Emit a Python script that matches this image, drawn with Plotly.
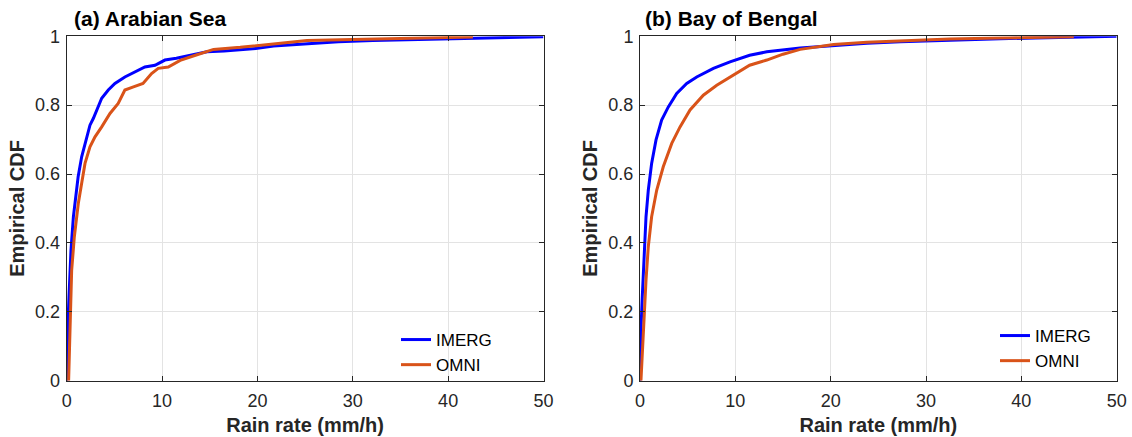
import plotly.graph_objects as go

# ---- data ----
as_imerg_x = [0, 0.02, 0.1, 0.24, 0.45, 0.7, 0.94, 1.2, 1.57, 2.0, 2.44, 2.8, 3.1, 3.67, 4.36, 5.06, 6.1, 7.16, 8.2, 9.26, 10.3, 11.5, 13.0, 14.7, 16.5, 18.2, 20.0, 21.7, 25.2, 28.5, 32.1, 35.5, 39.1, 42.6, 46.1, 50]
as_imerg_y = [0, 0.06, 0.147, 0.244, 0.38, 0.476, 0.534, 0.592, 0.65, 0.699, 0.742, 0.762, 0.781, 0.82, 0.844, 0.863, 0.882, 0.897, 0.911, 0.916, 0.931, 0.936, 0.945, 0.955, 0.957, 0.96, 0.965, 0.972, 0.979, 0.984, 0.988, 0.99, 0.993, 0.995, 0.998, 0.999]
as_omni_x = [0.2, 0.25, 0.35, 0.52, 0.8, 1.22, 1.57, 1.92, 2.44, 2.97, 3.67, 4.54, 5.4, 6.1, 7.0, 8.0, 8.9, 9.6, 10.65, 11.35, 11.9, 13.5, 15.4, 18.2, 21.7, 25.2, 30, 35, 40, 42.6]
as_omni_y = [0, 0.05, 0.196, 0.32, 0.418, 0.515, 0.573, 0.631, 0.679, 0.708, 0.737, 0.776, 0.805, 0.844, 0.853, 0.863, 0.892, 0.907, 0.911, 0.921, 0.93, 0.945, 0.962, 0.968, 0.978, 0.988, 0.991, 0.993, 0.996, 0.998]

bb_imerg_x = [0, 0.02, 0.1, 0.24, 0.42, 0.63, 0.87, 1.22, 1.68, 2.27, 2.97, 3.85, 4.9, 5.95, 7.7, 9.44, 11.5, 13.3, 16.8, 20.3, 23.8, 27.3, 32.5, 37.8, 41.5, 45.5, 50]
bb_imerg_y = [0, 0.06, 0.147, 0.244, 0.36, 0.476, 0.553, 0.631, 0.699, 0.757, 0.795, 0.834, 0.863, 0.882, 0.907, 0.926, 0.945, 0.955, 0.966, 0.974, 0.98, 0.984, 0.989, 0.993, 0.995, 0.998, 1.0]
bb_omni_x = [0.1, 0.28, 0.42, 0.63, 0.87, 1.22, 1.75, 2.44, 3.33, 4.2, 5.25, 6.64, 8.05, 9.44, 11.5, 13.3, 15.0, 16.8, 20.3, 23.8, 27.3, 32.5, 37.8, 41.5, 45.5]
bb_omni_y = [0, 0.1, 0.196, 0.292, 0.389, 0.476, 0.553, 0.621, 0.689, 0.737, 0.786, 0.829, 0.858, 0.882, 0.916, 0.931, 0.948, 0.962, 0.976, 0.983, 0.987, 0.992, 0.995, 0.997, 0.999]

panel_titles = ["(a) Arabian Sea", "(b) Bay of Bengal"]
series_names = ["IMERG", "OMNI"]
x_ticks = [0, 10, 20, 30, 40, 50]
y_ticks = [0, 0.2, 0.4, 0.6, 0.8, 1]
y_tick_labels = ["0", "0.2", "0.4", "0.6", "0.8", "1"]

BLUE = "#0000FF"
ORANGE = "#D95319"
FONT = "Liberation Sans, Arial, sans-serif"
W, H = 1132, 437

fig = go.Figure()
fig.add_trace(go.Scatter(x=as_imerg_x, y=as_imerg_y, mode="lines", name=series_names[0],
                         line=dict(color=BLUE, width=3), xaxis="x", yaxis="y", legend="legend"))
fig.add_trace(go.Scatter(x=as_omni_x, y=as_omni_y, mode="lines", name=series_names[1],
                         line=dict(color=ORANGE, width=3), xaxis="x", yaxis="y", legend="legend"))
fig.add_trace(go.Scatter(x=bb_imerg_x, y=bb_imerg_y, mode="lines", name=series_names[0],
                         line=dict(color=BLUE, width=3), xaxis="x2", yaxis="y2", legend="legend2"))
fig.add_trace(go.Scatter(x=bb_omni_x, y=bb_omni_y, mode="lines", name=series_names[1],
                         line=dict(color=ORANGE, width=3), xaxis="x2", yaxis="y2", legend="legend2"))

left = [66.7 / W, 543.5 / W]
right = [640 / W, 1116.7 / W]
ydom = [(H - 380.7) / H, (H - 36.3) / H]

axcommon = dict(showline=True, linecolor="#262626", linewidth=1, mirror="allticks",
                ticks="inside", ticklen=5, tickcolor="#262626",
                showgrid=True, gridcolor="#E3E3E3", gridwidth=1, zeroline=False,
                tickfont=dict(family=FONT, size=18, color="#262626"), automargin=False)

xcommon = dict(axcommon, range=[0, 50], tickvals=x_ticks, ticklabelstandoff=4,
               title=dict(text="<b>Rain rate (mm/h)</b>", font=dict(family=FONT, size=20, color="#262626"), standoff=7))
ycommon = dict(axcommon, range=[0, 1], tickvals=y_ticks, ticktext=y_tick_labels, ticklabelstandoff=2,
               title=dict(text="<b>Empirical CDF</b>", font=dict(family=FONT, size=20, color="#262626"), standoff=5))

legcommon = dict(font=dict(family=FONT, size=17, color="#000000"), bgcolor="rgba(255,255,255,0)",
                 borderwidth=0, xanchor="left", yanchor="top", tracegroupgap=0)

fig.update_layout(
    width=W, height=H,
    margin=dict(l=0, r=0, t=0, b=0),
    paper_bgcolor="white", plot_bgcolor="white",
    xaxis=dict(xcommon, domain=left, anchor="y"),
    yaxis=dict(ycommon, domain=ydom, anchor="x"),
    xaxis2=dict(xcommon, domain=right, anchor="y2"),
    yaxis2=dict(ycommon, domain=ydom, anchor="x2"),
    legend=dict(legcommon, x=396 / W, y=(H - 322) / H),
    legend2=dict(legcommon, x=995 / W, y=(H - 318) / H),
    showlegend=True,
    annotations=[
        dict(text="<b>" + panel_titles[0] + "</b>", x=72 / W, y=(H - 19) / H, xref="paper", yref="paper",
             xanchor="left", yanchor="middle", showarrow=False, font=dict(family=FONT, size=21, color="#000000")),
        dict(text="<b>" + panel_titles[1] + "</b>", x=643 / W, y=(H - 19) / H, xref="paper", yref="paper",
             xanchor="left", yanchor="middle", showarrow=False, font=dict(family=FONT, size=21, color="#000000")),
    ],
)

fig.write_html("out.html")
